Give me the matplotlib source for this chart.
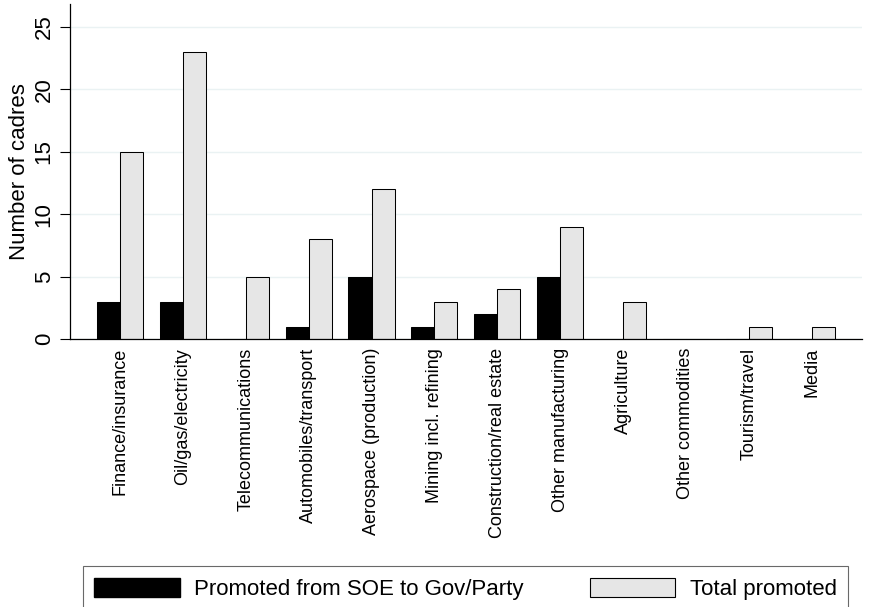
import matplotlib
matplotlib.use('Agg')
import matplotlib.pyplot as plt
import numpy as np
from matplotlib.patches import Patch

plt.rcParams['font.family'] = ['Liberation Sans', 'DejaVu Sans']

# data
sectors = ['Finance/insurance', 'Oil/gas/electricity', 'Telecommunications',
           'Automobiles/transport', 'Aerospace (production)', 'Mining incl. refining',
           'Construction/real estate', 'Other manufacturing', 'Agriculture',
           'Other commodities', 'Tourism/travel', 'Media']
soe_to_gov = [3, 3, 0, 1, 5, 1, 2, 5, 0, 0, 0, 0]
total_promoted = [15, 23, 5, 8, 12, 3, 4, 9, 3, 0, 1, 1]

fig = plt.figure(figsize=(8.75, 6.07), dpi=100)
ax = fig.add_axes([70 / 875, 1 - 339 / 607, 792 / 875, 335 / 607])

x = np.arange(len(sectors))
w = 0.367
ax.bar(x - w / 2, soe_to_gov, w, color='black', edgecolor='black', linewidth=0.75)
ax.bar(x + w / 2, total_promoted, w, color='#e6e6e6', edgecolor='black', linewidth=0.75)

ax.set_xlim(-0.795, 11.8)
ax.set_ylim(0, 26.85)
ax.set_yticks([0, 5, 10, 15, 20, 25])
ax.set_yticklabels(['0', '5', '10', '15', '20', '25'], rotation=90, va='center', fontsize=16)
ax.set_xticks(x)
ax.set_xticklabels(sectors, rotation=90, fontsize=13)
ax.tick_params(axis='x', length=0, pad=6.5)
ax.tick_params(axis='y', length=7.5, width=0.8, pad=3.5)
ax.set_ylabel('Number of cadres', fontsize=16, labelpad=3)

ax.grid(axis='y', color='#eaf2f3', linewidth=1)
ax.set_axisbelow(True)
ax.spines['top'].set_visible(False)
ax.spines['right'].set_visible(False)
ax.spines['left'].set_linewidth(0.9)
ax.spines['bottom'].set_linewidth(0.9)

handles = [Patch(facecolor='black', edgecolor='black'),
           Patch(facecolor='#e6e6e6', edgecolor='black', linewidth=0.8)]
leg = fig.legend(handles, ['Promoted from SOE to Gov/Party', 'Total promoted'],
                 loc='upper left', bbox_to_anchor=(83 / 875, 1 - 567 / 607, 765 / 875, 0.001),
                 mode='expand', ncol=2, fontsize=16, frameon=True, fancybox=False,
                 handlelength=3.85, handleheight=1.0, handletextpad=0.65,
                 borderaxespad=0, borderpad=0.5, columnspacing=2.2)
leg.get_frame().set_edgecolor('#444444')
leg.get_frame().set_linewidth(0.8)

fig.savefig('out.png', dpi=100, facecolor='white')
